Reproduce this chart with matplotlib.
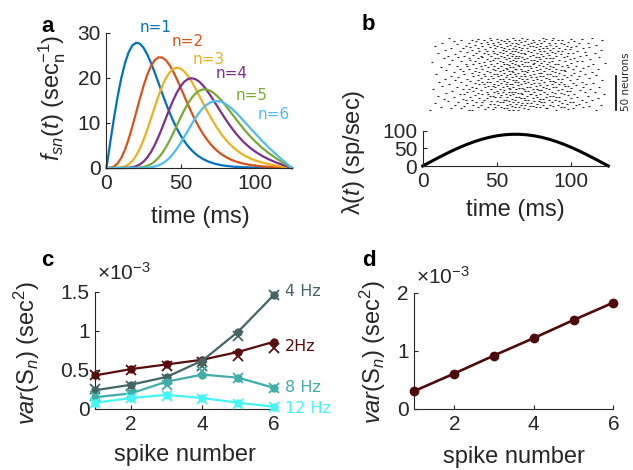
import matplotlib
matplotlib.use("Agg")
import matplotlib.pyplot as plt
import numpy as np


# =========================
# DATOS
# =========================

# panel a: densidad del tiempo del n-esimo spike
t_ms = [0, 2.5, 5, 7.5, 10, 12.5, 15, 17.5, 20, 22.5, 25, 27.5, 30, 32.5, 35, 37.5,
        40, 42.5, 45, 47.5, 50, 52.5, 55, 57.5, 60, 62.5, 65, 67.5, 70, 72.5, 75, 77.5,
        80, 82.5, 85, 87.5, 90, 92.5, 95, 97.5, 100, 105, 110, 115, 120, 125]
f_n1 = [0, 5.61, 10.97, 15.83, 20.00, 23.34, 25.77, 27.25, 27.84, 27.62, 26.70, 25.22,
        23.34, 21.20, 18.93, 16.64, 14.42, 12.33, 10.42, 8.71, 7.21, 5.92, 4.82, 3.90,
        3.13, 2.51, 2.00, 1.59, 1.26, 1.00, 0.79, 0.62, 0.49, 0.39, 0.31, 0.25, 0.20,
        0.16, 0.13, 0.10, 0.08, 0.05, 0.03, 0.02, 0.01, 0]
f_n2 = [0, 0.04, 0.31, 1.00, 2.25, 4.09, 6.48, 9.29, 12.33, 15.40, 18.26, 20.73,
        22.66, 23.95, 24.58, 24.56, 23.96, 22.88, 21.42, 19.70, 17.84, 15.91, 14.02, 12.20,
        10.51, 8.97, 7.60, 6.40, 5.35, 4.45, 3.69, 3.06, 2.52, 2.08, 1.71, 1.40, 1.16,
        0.95, 0.78, 0.64, 0.53, 0.35, 0.23, 0.14, 0.06, 0]
f_n3 = [0, 0, 0, 0.03, 0.13, 0.36, 0.81, 1.58, 2.73, 4.29, 6.24, 8.52,
        10.99, 13.53, 15.96, 18.13, 19.92, 21.23, 22.03, 22.29, 22.07, 21.41, 20.39, 19.11,
        17.64, 16.07, 14.47, 12.89, 11.38, 9.96, 8.66, 7.49, 6.44, 5.51, 4.70, 3.99, 3.39,
        2.86, 2.42, 2.03, 1.71, 1.18, 0.79, 0.48, 0.23, 0]
f_n4 = [0, 0, 0, 0, 0, 0.02, 0.07, 0.18, 0.40, 0.80, 1.42, 2.33,
        3.56, 5.09, 6.91, 8.92, 11.04, 13.13, 15.10, 16.81, 18.20, 19.20, 19.78, 19.95,
        19.73, 19.18, 18.36, 17.31, 16.13, 14.84, 13.53, 12.23, 10.96, 9.74, 8.61, 7.56, 6.62,
        5.74, 4.99, 4.29, 3.69, 2.65, 1.82, 1.14, 0.54, 0]
f_n5 = [0, 0, 0, 0, 0, 0, 0, 0.02, 0.04, 0.11, 0.24, 0.48,
        0.86, 1.44, 2.24, 3.29, 4.59, 6.09, 7.76, 9.51, 11.26, 12.91, 14.39, 15.62,
        16.56, 17.17, 17.47, 17.44, 17.15, 16.59, 15.85, 14.98, 13.99, 12.92, 11.84, 10.75, 9.70,
        8.66, 7.72, 6.80, 5.97, 4.45, 3.14, 2.00, 0.97, 0]
f_n6 = [0, 0, 0, 0, 0, 0, 0, 0, 0, 0.01, 0.03, 0.08,
        0.17, 0.33, 0.58, 0.97, 1.52, 2.26, 3.19, 4.30, 5.57, 6.95, 8.38, 9.79,
        11.11, 12.30, 13.30, 14.05, 14.58, 14.84, 14.86, 14.68, 14.28, 13.71, 13.02, 12.23, 11.38,
        10.45, 9.57, 8.62, 7.74, 5.98, 4.33, 2.82, 1.38, 0]
curve_labels = ["n=1", "n=2", "n=3", "n=4", "n=5", "n=6"]

# panel b: tasa (sp/sec) y raster (tiempos de spike en ms, una lista por neurona)
rate_t_ms = [0, 5, 10, 15, 20, 25, 30, 35, 40, 45, 50, 55, 60, 65, 70, 75, 80, 85,
             90, 95, 100, 105, 110, 115, 120, 125]
rate_sp = [0, 11.3, 22.4, 33.1, 43.4, 52.9, 61.6, 69.3, 76.0, 81.4, 85.6, 88.4, 89.8,
           89.8, 88.4, 85.6, 81.4, 76.0, 69.3, 61.6, 52.9, 43.4, 33.1, 22.4, 11.3, 0]
raster_spikes = [
    [5, 31, 33, 58, 61, 64, 90, 117], [42, 47, 71, 98], [19, 26, 55, 57, 68, 83, 84, 101],
    [37, 62, 65, 79, 108], [12, 44, 49, 53, 76, 93, 95], [28, 60, 72, 74, 88, 112],
    [34, 39, 51, 66, 69, 81, 103, 120], [22, 57, 86, 91], [45, 48, 59, 63, 77, 97, 105],
    [8, 30, 67, 70, 73, 94], [24, 40, 52, 54, 80, 87, 110], [36, 61, 64, 82, 99, 101],
    [17, 46, 50, 58, 75, 78, 92], [29, 33, 69, 85, 114], [41, 55, 56, 62, 71, 89, 96, 107],
    [14, 27, 60, 79, 81], [38, 43, 66, 68, 74, 100, 118], [21, 49, 52, 83, 90, 92],
    [32, 57, 63, 65, 77, 104], [10, 45, 47, 70, 86, 88, 111], [35, 53, 59, 76, 98],
    [25, 28, 44, 61, 67, 72, 84, 95, 122], [40, 56, 73, 79, 102], [16, 37, 51, 64, 66, 89, 93],
    [30, 48, 54, 58, 82, 109], [43, 60, 62, 75, 87, 116], [20, 34, 50, 69, 71, 97, 99],
    [39, 55, 78, 80, 91, 106], [7, 46, 59, 63, 68, 85], [27, 31, 52, 74, 77, 94, 113],
    [36, 58, 65, 67, 83, 100], [23, 42, 49, 61, 88, 90, 108], [33, 54, 70, 72, 81, 119],
    [13, 44, 47, 57, 76, 96, 98], [29, 51, 64, 79, 84, 103], [38, 41, 60, 66, 73, 92, 110],
    [18, 48, 56, 59, 87, 95], [35, 53, 69, 75, 78, 101, 115], [26, 45, 62, 64, 82, 89],
    [11, 40, 43, 57, 71, 93, 107], [32, 50, 55, 68, 86, 88], [22, 37, 61, 63, 74, 80, 99, 121],
    [44, 58, 77, 94, 104], [15, 30, 52, 54, 67, 70, 85, 91], [39, 47, 65, 83, 112],
    [24, 56, 60, 73, 76, 97], [34, 42, 51, 69, 81, 90, 105], [19, 46, 63, 66, 79, 88],
    [37, 53, 57, 72, 95, 100, 117], [28, 41, 59, 62, 84, 86], [9, 48, 50, 68, 75, 109],
    [33, 55, 64, 78, 80, 92, 102], [21, 38, 45, 61, 70, 89, 114], [43, 52, 58, 74, 87, 96],
    [27, 35, 60, 67, 69, 82, 106], [16, 49, 54, 71, 77, 93, 95], [40, 57, 63, 85, 101, 118],
    [25, 31, 47, 62, 66, 79, 90], [36, 51, 56, 73, 83, 108], [12, 44, 59, 61, 76, 88, 98],
    [30, 53, 65, 68, 81, 111], [23, 39, 48, 70, 72, 86, 94, 103], [42, 58, 64, 78, 97],
    [18, 34, 55, 57, 74, 84, 115], [29, 46, 62, 67, 89, 91], [38, 50, 60, 75, 80, 100, 123],
    [6, 41, 54, 69, 71, 85], [26, 45, 52, 63, 77, 96, 107], [35, 59, 66, 82, 87, 104],
    [20, 32, 47, 61, 73, 75, 92], [43, 56, 68, 79, 99, 113], [14, 37, 51, 58, 64, 86, 88],
    [31, 49, 62, 70, 83, 102], [24, 40, 55, 67, 76, 78, 95, 119], [39, 53, 60, 81, 90],
    [17, 28, 46, 63, 65, 72, 97, 106], [34, 57, 74, 85, 110], [22, 44, 50, 61, 69, 80, 93],
    [41, 54, 59, 77, 89, 101], [10, 36, 48, 66, 68, 84, 98, 116], [30, 52, 64, 73, 87, 109],
    [25, 43, 56, 62, 79, 82, 94], [38, 47, 60, 71, 91, 104], [15, 33, 54, 66, 75, 86, 120],
    [42, 58, 63, 78, 96, 99], [27, 49, 55, 70, 81, 92, 108], [19, 37, 61, 67, 84, 88],
    [32, 45, 53, 65, 76, 100, 112], [40, 57, 72, 74, 90, 103], [8, 29, 50, 62, 79, 83, 97],
    [35, 48, 59, 68, 86, 117], [23, 44, 52, 64, 71, 77, 95], [39, 56, 63, 80, 89, 105],
    [13, 31, 47, 60, 73, 85, 93, 111], [43, 51, 66, 75, 98], [21, 36, 55, 58, 69, 82, 102],
    [33, 46, 62, 78, 87, 94, 121], [26, 41, 53, 65, 74, 91], [37, 50, 57, 70, 83, 100, 107],
    [18, 45, 61, 67, 81, 88, 114],
]

# panel c: var(S_n) en sec^2 (linea con circulos y cruces por frecuencia)
spike_number = [1, 2, 3, 4, 5, 6]
freq_labels = ["2Hz", "4 Hz", "8 Hz", "12 Hz"]
var_line = [
    [0.43e-3, 0.51e-3, 0.57e-3, 0.63e-3, 0.73e-3, 0.86e-3],
    [0.24e-3, 0.31e-3, 0.41e-3, 0.62e-3, 0.99e-3, 1.46e-3],
    [0.15e-3, 0.20e-3, 0.35e-3, 0.44e-3, 0.40e-3, 0.27e-3],
    [0.08e-3, 0.14e-3, 0.18e-3, 0.14e-3, 0.08e-3, 0.03e-3],
]
var_cross = [
    [0.43e-3, 0.50e-3, 0.55e-3, 0.60e-3, 0.68e-3, 0.78e-3],
    [0.26e-3, 0.30e-3, 0.38e-3, 0.55e-3, 0.93e-3, 1.46e-3],
    [0.16e-3, 0.19e-3, 0.31e-3, 0.49e-3, 0.39e-3, 0.27e-3],
    [0.08e-3, 0.14e-3, 0.17e-3, 0.13e-3, 0.07e-3, 0.03e-3],
]

# panel d
var_d = [0.31e-3, 0.61e-3, 0.92e-3, 1.22e-3, 1.53e-3, 1.83e-3]


# =========================
# ESTILO
# =========================

plt.rcParams["font.family"] = ["Liberation Sans", "DejaVu Sans"]
plt.rcParams["mathtext.fontset"] = "custom"
plt.rcParams["mathtext.rm"] = "Liberation Sans"
plt.rcParams["mathtext.it"] = "Liberation Sans:italic"
plt.rcParams["mathtext.bf"] = "Liberation Sans:bold"

AXIS_COLOR = "#262626"
CURVE_COLORS = ["#0072BD", "#D95319", "#EDB120", "#7E2F8E", "#77AC30", "#4DBEEE"]
FREQ_COLORS = ["#580c0c", "#456565", "#3fadaa", "#45f5f5"]
TICK_SIZE = 15
LABEL_SIZE = 17


def style_axes(ax):
    for side in ("top", "right"):
        ax.spines[side].set_visible(False)
    for side in ("left", "bottom"):
        ax.spines[side].set_color(AXIS_COLOR)
        ax.spines[side].set_linewidth(0.8)
    ax.tick_params(direction="in", length=3, width=0.8, colors=AXIS_COLOR,
                   labelsize=TICK_SIZE, pad=4)


fig = plt.figure(figsize=(6.33, 4.70), dpi=100)

# ---- panel a
ax_a = fig.add_axes([0.1682, 0.6426, 0.2931, 0.2872])
label_pos = [(22.6, 31.3), (44.1, 28.0), (58.3, 24.0), (73.8, 20.9), (87.3, 16.2), (102.1, 11.8)]
for vals, col, lab, (lx, ly) in zip([f_n1, f_n2, f_n3, f_n4, f_n5, f_n6], CURVE_COLORS,
                                    curve_labels, label_pos):
    ax_a.plot(t_ms, vals, color=col, lw=1.6, clip_on=False)
    ax_a.text(lx, ly, lab, color=col, fontsize=11, family="DejaVu Sans",
              ha="left", va="center")
ax_a.set_xlim(0, 125)
ax_a.set_ylim(0, 30)
ax_a.set_xticks([0, 50, 100])
ax_a.set_yticks([0, 10, 20, 30])
style_axes(ax_a)
ax_a.set_xlabel("time (ms)", fontsize=LABEL_SIZE, color=AXIS_COLOR)
ax_a.set_ylabel(r"$f_{sn}(t)$ (sec$^{-1}_{\mathrm{n}}$)", fontsize=LABEL_SIZE, color=AXIS_COLOR)
ax_a.xaxis.set_label_coords(0.504, -0.28)
ax_a.yaxis.set_label_coords(-0.21, 0.52)

# ---- panel b raster
ax_r = fig.add_axes([0.6678, 0.766, 0.2932, 0.1532])
for i, spikes in enumerate(raster_spikes):
    ax_r.plot(spikes, [i + 1] * len(spikes), ls="none", marker="_", ms=1.7,
              mew=0.8, color="#222222")
ax_r.set_xlim(0, 125)
ax_r.set_ylim(0.5, 100.5)
ax_r.axis("off")
ax_r.plot([130, 130], [0.5, 47.5], color="black", lw=1.2, clip_on=False)
ax_r.text(137, 40, "50 neurons", rotation=90, fontsize=7.5, family="DejaVu Sans",
          ha="center", va="center", color=AXIS_COLOR)

# ---- panel b rate
ax_b = fig.add_axes([0.6678, 0.6468, 0.2932, 0.0751])
ax_b.plot(rate_t_ms, rate_sp, color="black", lw=2.2, clip_on=False)
ax_b.set_xlim(0, 125)
ax_b.set_ylim(0, 100)
ax_b.set_xticks([0, 50, 100])
ax_b.set_yticks([0, 50, 100])
style_axes(ax_b)
ax_b.set_xlabel("time (ms)", fontsize=LABEL_SIZE, color=AXIS_COLOR)
ax_b.set_ylabel(r"λ($t$) (sp/sec)", fontsize=LABEL_SIZE, color=AXIS_COLOR)
ax_b.xaxis.set_label_coords(0.497, -0.93)
ax_b.yaxis.set_label_coords(-0.30, 0.40)

# ---- panel c
ax_c = fig.add_axes([0.1504, 0.1298, 0.2825, 0.2496])
label_y = [0.80e-3, 1.50e-3, 0.28e-3, 0.0]
for line_vals, cross_vals, col, lab, ly in zip(var_line, var_cross, FREQ_COLORS,
                                               freq_labels, label_y):
    ax_c.plot(spike_number, line_vals, color=col, lw=1.6, marker="o", ms=5,
              clip_on=False, zorder=3)
    ax_c.plot(spike_number, cross_vals, ls="none", color=col, marker="x", ms=7,
              mew=1.3, clip_on=False, zorder=3)
    ax_c.text(6.3, ly, lab, color=col, fontsize=11.5, family="DejaVu Sans",
              ha="left", va="center")
ax_c.set_xlim(1, 6)
ax_c.set_ylim(0, 1.5e-3)
ax_c.set_xticks([2, 4, 6])
ax_c.set_yticks([0, 0.5e-3, 1e-3, 1.5e-3])
ax_c.set_yticklabels(["0", "0.5", "1", "1.5"])
style_axes(ax_c)
ax_c.text(0.01, 1.16, r"$\times$10$^{-3}$", transform=ax_c.transAxes, fontsize=TICK_SIZE,
          color=AXIS_COLOR, ha="left", va="center")
ax_c.set_xlabel("spike number", fontsize=LABEL_SIZE, color=AXIS_COLOR)
ax_c.set_ylabel(r"$var$(S$_n$) (sec$^2$)", fontsize=LABEL_SIZE, color=AXIS_COLOR)
ax_c.xaxis.set_label_coords(0.502, -0.30)
ax_c.yaxis.set_label_coords(-0.30, 0.48)

# ---- panel d
ax_d = fig.add_axes([0.6548, 0.1298, 0.3141, 0.2474])
ax_d.plot(spike_number, var_d, color="#4d0b0b", lw=1.9, marker="o", ms=6,
          clip_on=False, zorder=3)
ax_d.set_xlim(1, 6)
ax_d.set_ylim(0, 2e-3)
ax_d.set_xticks([2, 4, 6])
ax_d.set_yticks([0, 1e-3, 2e-3])
ax_d.set_yticklabels(["0", "1", "2"])
style_axes(ax_d)
ax_d.text(0.01, 1.14, r"$\times$10$^{-3}$", transform=ax_d.transAxes, fontsize=TICK_SIZE,
          color=AXIS_COLOR, ha="left", va="center")
ax_d.set_xlabel("spike number", fontsize=LABEL_SIZE, color=AXIS_COLOR)
ax_d.set_ylabel(r"$var$(S$_n$) (sec$^2$)", fontsize=LABEL_SIZE, color=AXIS_COLOR)
ax_d.xaxis.set_label_coords(0.50, -0.32)
ax_d.yaxis.set_label_coords(-0.135, 0.49)

# letras de panel
for letter, x, y in [("a", 41, 26), ("b", 362, 25), ("c", 41, 261), ("d", 362, 260)]:
    fig.text(x / 633, 1 - y / 470, letter, fontsize=16, fontweight="bold",
             ha="left", va="center", color="black")

fig.savefig("out.png", dpi=100)
